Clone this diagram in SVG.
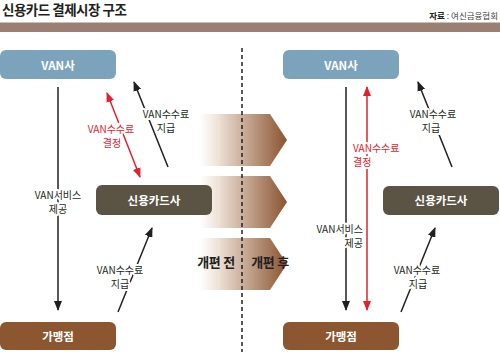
<svg xmlns="http://www.w3.org/2000/svg" width="500" height="352" viewBox="0 0 500 352">
<defs>
<style>
text{font-family:"Noto Sans CJK KR","Liberation Sans",sans-serif}
.title{font-size:13.5px;font-weight:700;fill:#231f20;letter-spacing:-0.5px}
.src{font-size:8.5px;fill:#444}
.node{font-size:11.5px;font-weight:700;fill:#fff;text-anchor:middle}
.lbl{font-size:10px;fill:#231f20;text-anchor:middle;stroke:#fff;stroke-width:4px;stroke-linejoin:round;paint-order:stroke}
.red{fill:#e1222e}
.end{text-anchor:end}
.start{text-anchor:start}
.phase{font-size:13px;font-weight:700;fill:#231f20;text-anchor:middle;letter-spacing:-0.3px}
.ln{stroke:#231f20;stroke-width:1.5;fill:none;marker-end:url(#ah)}
.rl{stroke:#e1222e;stroke-width:1.5;fill:none;marker-end:url(#ahr);marker-start:url(#ahr)}
.van{fill:#7ba3bb}
.card{fill:#5b5343}
.shop{fill:#8c5631}
</style>
<marker id="ah" markerUnits="userSpaceOnUse" markerWidth="10" markerHeight="8" refX="9" refY="4" orient="auto">
<path d="M0,0 L10,4 L0,8 Z" fill="#231f20"/>
</marker>
<marker id="ahr" markerUnits="userSpaceOnUse" markerWidth="10" markerHeight="8" refX="9" refY="4" orient="auto-start-reverse">
<path d="M0,0 L10,4 L0,8 Z" fill="#e1222e"/>
</marker>
<linearGradient id="chev" gradientUnits="userSpaceOnUse" x1="200" y1="0" x2="287" y2="0">
<stop offset="0" stop-color="#ffffff"/>
<stop offset="0.2" stop-color="#efe3d9"/>
<stop offset="1" stop-color="#8a5430"/>
</linearGradient>
</defs>
<rect width="500" height="352" fill="#fff"/>

<g id="header">
<text class="title" x="2" y="15">신용카드 결제시장 구조</text>
<text class="src" x="498" y="19" text-anchor="end"><tspan font-weight="700" fill="#231f20">자료</tspan> : 여신금융협회</text>
<rect x="0" y="22.5" width="500" height="9.5" fill="#9b7f73"/>
</g>

<g id="transition">
<path d="M200,114 H270 L287,140 L270,166 H200 Z" fill="url(#chev)"/>
<path d="M200,176 H270 L287,202 L270,228 H200 Z" fill="url(#chev)"/>
<path d="M200,238 H270 L287,264 L270,290 H200 Z" fill="url(#chev)"/>
<line x1="242" y1="48" x2="242" y2="352" stroke="#231f20" stroke-width="1.5" stroke-dasharray="4 3"/>
<text class="phase" x="216" y="267">개편 전</text>
<text class="phase" x="270" y="267">개편 후</text>
</g>

<g id="connectors">
<line class="ln" x1="58" y1="87" x2="58" y2="310"/>
<line class="rl" x1="107" y1="93" x2="140" y2="177"/>
<line class="ln" x1="168" y1="167" x2="134" y2="82"/>
<line class="ln" x1="118" y1="312" x2="152" y2="228"/>
<line class="ln" x1="346" y1="87" x2="346" y2="310"/>
<line class="rl" x1="367" y1="87" x2="367" y2="310"/>
<line class="ln" x1="452" y1="167" x2="418" y2="82"/>
<line class="ln" x1="401" y1="312" x2="435" y2="228"/>
</g>

<g id="labels">
<text class="lbl" x="58" y="198.5">VAN서비스<tspan x="58" dy="14">제공</tspan></text>
<text class="lbl red" x="111" y="133">VAN수수료<tspan x="112" dy="14">결정</tspan></text>
<text class="lbl" x="166" y="118">VAN수수료<tspan x="166" dy="14">지급</tspan></text>
<text class="lbl" x="120" y="273.5">VAN수수료<tspan x="120" dy="14">지급</tspan></text>
<text class="lbl end" x="363" y="233">VAN서비스<tspan x="363" dy="14">제공</tspan></text>
<text class="lbl red start" x="353" y="152">VAN수수료<tspan x="353" dy="14">결정</tspan></text>
<text class="lbl" x="433" y="118">VAN수수료<tspan x="431" dy="14">지급</tspan></text>
<text class="lbl" x="417" y="273.5">VAN수수료<tspan x="418" dy="14">지급</tspan></text>
</g>

<g id="van-before"><rect class="van" x="0" y="50" width="116" height="29" rx="6"/><text class="node" x="58" y="69.5">VAN사</text></g>
<g id="card-before"><rect class="card" x="96" y="185" width="116" height="30" rx="6"/><text class="node" x="154" y="204.5">신용카드사</text></g>
<g id="shop-before"><rect class="shop" x="0" y="322" width="116" height="28" rx="6"/><text class="node" x="58" y="340.5">가맹점</text></g>

<g id="van-after"><rect class="van" x="283" y="50" width="116" height="29" rx="6"/><text class="node" x="341" y="69.5">VAN사</text></g>
<g id="card-after"><rect class="card" x="383" y="186" width="116" height="29" rx="6"/><text class="node" x="441" y="205">신용카드사</text></g>
<g id="shop-after"><rect class="shop" x="283" y="322" width="116" height="28" rx="6"/><text class="node" x="341" y="340.5">가맹점</text></g>
</svg>
